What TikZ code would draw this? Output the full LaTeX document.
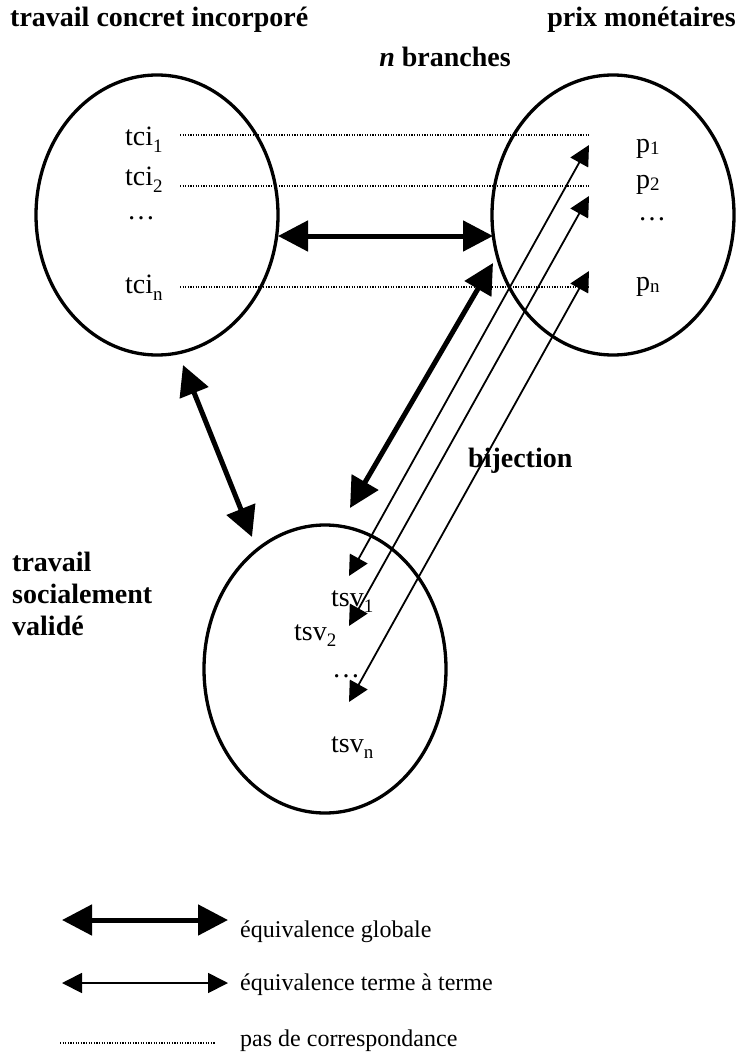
\documentclass[tikz,border=0pt]{standalone}
\usepackage{fontspec}
\setmainfont{Liberation Serif}
\usetikzlibrary{arrows.meta,shapes.geometric}
\newcommand\lowsub[2]{\raisebox{-#1pt}{\fontsize{19}{19}\selectfont #2}}
\begin{document}
\begin{tikzpicture}[x=1pt,y=-1pt,
  ell/.style={draw,line width=3.3pt,ellipse,minimum width=242pt,minimum height=280pt,inner sep=0pt},
  lab/.style={anchor=base west,inner sep=0pt,font=\fontsize{28}{32}\selectfont},
  ttl/.style={inner sep=0pt,font=\fontsize{28}{32}\selectfont\bfseries},
  leg/.style={anchor=base west,inner sep=0pt,font=\fontsize{24}{28}\selectfont},
  thickarr/.style={line width=5pt,{Triangle[length=30pt,width=30pt]}-{Triangle[length=30pt,width=30pt]}},
  thinarr/.style={line width=1.8pt,{Triangle[length=20pt,width=20pt]}-{Triangle[length=20pt,width=20pt]}},
  dots/.style={line width=1.2pt,dash pattern=on 1.2pt off 1.4pt}
]
\useasboundingbox (0,0) rectangle (739,1054);

% ellipses
\node[ell] (L) at (157,215) {};
\node[ell] (R) at (613,215) {};
\node[ell,minimum height=288pt] (B) at (325,669) {};

% titles
\node[ttl,anchor=base west] (t1) at (10,27) {travail concret incorporé};
\node[ttl,anchor=base east] (t2) at (736,27) {prix monétaires};
\node[ttl,anchor=base] (t3) at (445,67) {\textit{n} branches};
\node[ttl,anchor=base west] (t4a) at (12,571) {travail};
\node[ttl,anchor=base west] (t4b) at (12,603) {socialement};
\node[ttl,anchor=base west] (t4c) at (12,635) {validé};
\node[ttl,anchor=base west] (bij) at (468,467) {bijection};

% left labels
\node[lab] (tci1) at (125,145) {tci\lowsub{7}{1}};
\node[lab] (tci2) at (125,185) {tci\lowsub{7}{2}};
\node[lab] (tcid) at (127,219) {\dots};
\node[lab] (tcin) at (125,293) {tci\lowsub{7}{n}};

% right labels
\node[lab] (p1) at (636,152) {p\lowsub{2}{1}};
\node[lab] (p2) at (636,188) {p\lowsub{2}{2}};
\node[lab] (pd) at (638,220) {\dots};
\node[lab] (pn) at (636,290) {p\lowsub{2}{n}};

% bottom labels
\node[lab] (tsv1) at (331,606) {tsv\lowsub{6}{1}};
\node[lab] (tsv2) at (294,640) {tsv\lowsub{6}{2}};
\node[lab] (tsvd) at (332,677) {\dots};
\node[lab] (tsvn) at (331,752) {tsv\lowsub{6}{n}};

% dotted correspondences
\coordinate (d1) at (589,135);
\coordinate (d2) at (589,186);
\coordinate (dn) at (589,287);
\draw[dots] (180,135) -- (d1);
\draw[dots] (180,186) -- (d2);
\draw[dots] (180,287) -- (dn);

% thick global equivalences
\coordinate (aL) at (278,236);
\coordinate (aR) at (493,236);
\draw[thickarr] (aL) -- (aR);
\coordinate (bL) at (183,365);
\coordinate (bB) at (252,537);
\draw[thickarr] (bL) -- (bB);
\coordinate (cR) at (493,263);
\coordinate (cB) at (350,508);
\draw[thickarr] (cR) -- (cB);

% thin term-to-term arrows
\coordinate (e1t) at (589,145);
\coordinate (e1b) at (349,576);
\coordinate (e2t) at (589,196);
\coordinate (e2b) at (349,626);
\coordinate (ent) at (589,271);
\coordinate (enb) at (349,702);
\draw[thinarr] (e1t) -- (e1b);
\draw[thinarr] (e2t) -- (e2b);
\draw[thinarr] (ent) -- (enb);

% legend
\coordinate (g1a) at (62,920);
\coordinate (g1b) at (228,920);
\draw[thickarr] (g1a) -- (g1b);
\node[leg] (lg1) at (240,937) {équivalence globale};
\coordinate (g2a) at (62,983);
\coordinate (g2b) at (228,983);
\draw[thinarr] (g2a) -- (g2b);
\node[leg] (lg2) at (240,990) {équivalence terme à terme};
\coordinate (g3a) at (60,1043);
\coordinate (g3b) at (215,1043);
\draw[dots] (g3a) -- (g3b);
\node[leg] (lg3) at (240,1046) {pas de correspondance};
\end{tikzpicture}
\end{document}
